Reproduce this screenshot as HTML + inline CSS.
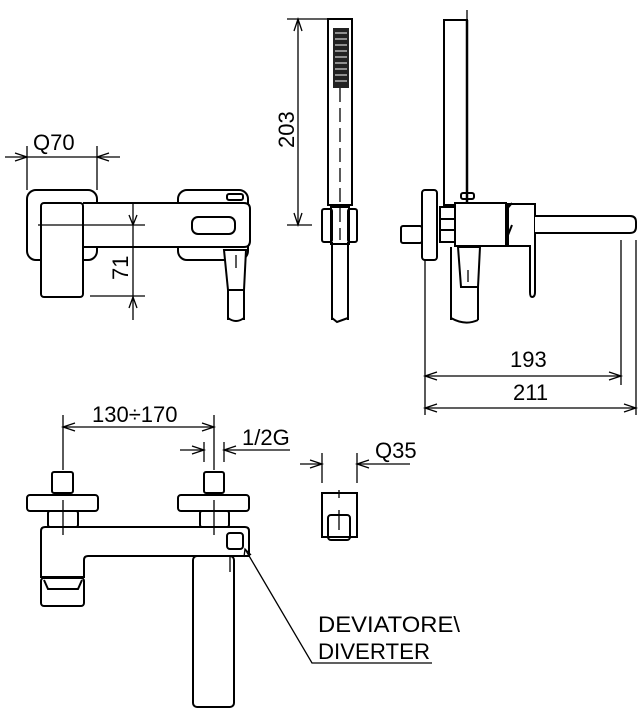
<!DOCTYPE html>
<html><head><meta charset="utf-8"><style>
html,body{margin:0;padding:0;background:#fff}
svg{display:block}
text{font-family:"Liberation Sans",sans-serif;font-size:22px;fill:#000}
</style></head><body>
<svg width="641" height="711" viewBox="0 0 641 711" xmlns="http://www.w3.org/2000/svg">
<g fill="none" stroke="#000" stroke-width="2">
<!-- top-left view -->
<rect x="27" y="190" width="70" height="70" rx="9"/>
<rect x="178" y="190" width="70" height="70" rx="9" fill="#fff"/>
<path d="M83,203 H244 Q250,203 250,209 V241 Q250,247 244,247 H83" fill="#fff"/>
<rect x="41" y="203" width="42" height="94" rx="3" fill="#fff"/>
<rect x="192" y="217" width="43" height="17" rx="6"/>
<rect x="227" y="194" width="16" height="6" rx="2"/>
<path d="M224,250 H246 L244,290 H228 Z" fill="#fff"/>
<path d="M228,290 V320 M244,290 V320 M228,318 Q236,324 244,318"/>
</g>
<g fill="none" stroke="#000" stroke-width="1.3">
<line x1="27" y1="146" x2="27" y2="190"/><line x1="97" y1="146" x2="97" y2="190"/>
<line x1="5" y1="157" x2="120" y2="157"/>
<path d="M15,153 L27,157 L15,161 M109,153 L97,157 L109,161"/>
<line x1="38" y1="225" x2="145" y2="225"/>
<line x1="90" y1="296" x2="145" y2="296"/>
<line x1="133" y1="203" x2="133" y2="320"/>
<path d="M129,215 L133,225 L137,215 M129,308 L133,297 L137,308"/>
<line x1="236" y1="255" x2="236" y2="268"/>
</g>
<text x="33" y="150">Q70</text>
<text transform="translate(128,280) rotate(-90)">71</text>

<!-- hand shower front -->
<g fill="none" stroke="#000" stroke-width="2">
<rect x="328" y="19" width="24" height="186" fill="#fff"/>
<path d="M332,242 V320 M348,242 V320 M332,318 L337,322 L348,318"/>
<rect x="322" y="209" width="10" height="33" rx="2"/>
<rect x="348" y="209" width="9" height="33" rx="2"/>
<rect x="331" y="207" width="18" height="37"/>
</g>
<rect x="333" y="28" width="16" height="60" fill="#222"/>
<g stroke="#fff" stroke-width="1">
<path d="M335,33H347M335,39H347M335,45H347M335,51H347M335,57H347M335,63H347M335,69H347M335,75H347M335,81H347"/>
</g>
<g fill="none" stroke="#000" stroke-width="1.3">
<line x1="340" y1="88" x2="340" y2="240" stroke-dasharray="14,6"/>
<line x1="287" y1="19" x2="352" y2="19"/>
<line x1="287" y1="225" x2="312" y2="225"/>
<line x1="298" y1="19" x2="298" y2="225"/>
<path d="M294,31 L298,19 L302,31 M294,213 L298,225 L302,213"/>
</g>
<text transform="translate(294,148) rotate(-90)">203</text>

<!-- side view -->
<g fill="none" stroke="#000" stroke-width="2">
<rect x="444" y="20" width="23" height="185" fill="#fff"/>
<line x1="467" y1="20" x2="467" y2="205" stroke-width="2.5"/>
<rect x="422" y="190" width="15" height="70" rx="3" fill="#fff"/>
<rect x="401" y="226" width="21" height="17" rx="2"/>
<rect x="440" y="207" width="15" height="35" fill="#fff"/>
<path d="M440,219 H455 M440,230 H455"/>
<rect x="455" y="203" width="51" height="43" fill="#fff"/>
<rect x="461" y="193" width="13" height="6" rx="2"/>
<path d="M508,204 H535 V292 Q535,297 532,297 Q530,297 530,292 V246 H508 Z" fill="#fff"/>
<path d="M506,210 L512,203 M506,240 L512,225"/>
<path d="M535,216 H630 Q636,216 636,222 V227 Q636,233 630,233 H535" fill="#fff"/>
<path d="M458,247 H480 L478,287 H461 Z" fill="#fff"/>
<path d="M451,247 V320 M478,287 V320 M451,318 Q465,326 478,320"/>
</g>
<g fill="none" stroke="#000" stroke-width="1.3">
<line x1="467" y1="10" x2="467" y2="20"/>
<line x1="425" y1="260" x2="425" y2="415"/>
<line x1="621" y1="240" x2="621" y2="385"/>
<line x1="636" y1="240" x2="636" y2="415"/>
<line x1="425" y1="376" x2="621" y2="376"/>
<line x1="425" y1="408" x2="636" y2="408"/>
<path d="M437,372 L425,376 L437,380 M609,372 L621,376 L609,380 M437,404 L425,408 L437,412 M624,404 L636,408 L624,412"/>
<line x1="468" y1="270" x2="468" y2="282"/>
</g>
<text x="510" y="367">193</text>
<text x="513" y="400">211</text>

<!-- bottom view -->
<g fill="none" stroke="#000" stroke-width="2">
<rect x="52" y="472" width="21" height="21" rx="2"/>
<rect x="27" y="495" width="71" height="16" rx="3"/>
<rect x="48" y="511" width="30" height="16" rx="2"/>
<rect x="204" y="472" width="20" height="21" rx="2"/>
<rect x="178" y="495" width="71" height="16" rx="3"/>
<rect x="200" y="511" width="29" height="16" rx="2"/>
<path d="M45,527 H245 Q249,527 249,531 V556 H88 Q84,556 84,560 V577 H41 V531 Q41,527 45,527 Z" fill="#fff"/>
<rect x="41" y="578" width="43" height="28" rx="3"/>
<path d="M44,580 L48,589 H78 L82,580"/>
<rect x="193" y="556" width="41" height="151" rx="4"/>
<rect x="227" y="533" width="16" height="16" rx="3"/>
<rect x="322" y="493" width="35" height="44"/>
<rect x="328" y="515" width="22" height="25" rx="3"/>
</g>
<g fill="none" stroke="#000" stroke-width="1.3">
<line x1="63" y1="415" x2="63" y2="470"/>
<line x1="214" y1="415" x2="214" y2="470"/>
<line x1="204" y1="442" x2="204" y2="462"/>
<line x1="224" y1="442" x2="224" y2="462"/>
<line x1="63" y1="427" x2="214" y2="427"/>
<path d="M75,423 L63,427 L75,431 M202,423 L214,427 L202,431"/>
<line x1="180" y1="450" x2="204" y2="450"/>
<line x1="224" y1="450" x2="290" y2="450"/>
<path d="M192,446 L204,450 L192,454 M236,446 L224,450 L236,454"/>
<line x1="63" y1="500" x2="63" y2="535"/>
<line x1="214" y1="500" x2="214" y2="535"/>
<line x1="230" y1="555" x2="230" y2="572"/>
<line x1="322" y1="453" x2="322" y2="483"/>
<line x1="357" y1="453" x2="357" y2="483"/>
<line x1="300" y1="464" x2="322" y2="464"/>
<line x1="357" y1="464" x2="410" y2="464"/>
<path d="M310,460 L322,464 L310,468 M369,460 L357,464 L369,468"/>
<line x1="339" y1="490" x2="339" y2="498"/>
<line x1="339" y1="510" x2="339" y2="530"/>
<path d="M245,549 L312,663 H432"/>
<path d="M244,557 L245,549 L251,555"/>
</g>
<text x="92" y="422">130÷170</text>
<text x="242" y="445">1/2G</text>
<text x="375" y="458">Q35</text>
<text x="318" y="632" textLength="142" lengthAdjust="spacingAndGlyphs">DEVIATORE\</text>
<text x="318" y="659" textLength="112" lengthAdjust="spacingAndGlyphs">DIVERTER</text>
</svg>
</body></html>
